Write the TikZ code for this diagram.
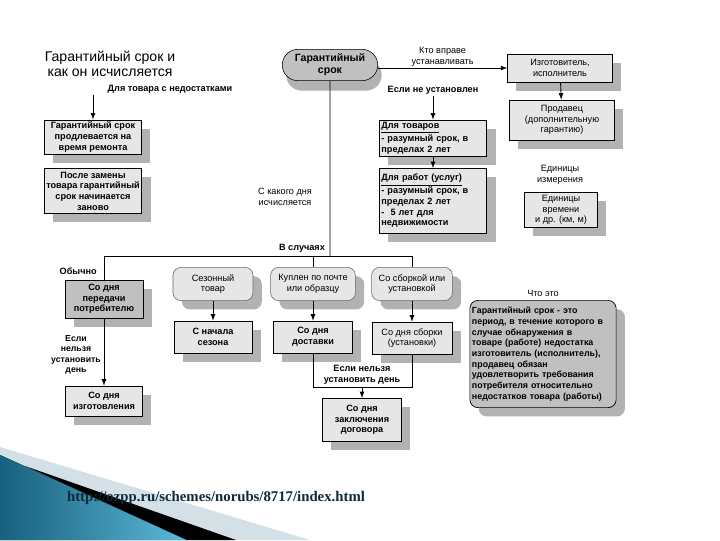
\documentclass[tikz,border=0pt]{standalone}
\usepackage{fontspec}
\setmainfont{Liberation Sans}
\newfontfamily\urlfont{Liberation Serif}
\usepackage{tikz}
\usetikzlibrary{shapes.misc}
\usetikzlibrary{shadows}
\usetikzlibrary{positioning}
\usetikzlibrary{arrows}
\definecolor{boxfill}{HTML}{E6E6E6}
\definecolor{darkfill}{HTML}{C0C0C0}
\definecolor{shadowfill}{HTML}{B2B2B2}
\definecolor{seablue}{HTML}{17607E}
\definecolor{skyblue}{HTML}{5BB9D7}
\definecolor{mistblue}{HTML}{D3E1E7}
\definecolor{urlink}{HTML}{0F283A}
\newcommand{\schemefont}{\fontsize{6.5}{7.6}\selectfont}
\tikzset{
shade_box/.style={drop shadow={shadow xshift=0.22cm, shadow yshift=-0.22cm, fill=shadowfill, opacity=1}},
box_item/.style={rectangle, draw, line width=0.5pt, fill=boxfill, align=center, font=\schemefont\bfseries, inner sep=1.5pt, shade_box},
plain_item/.style={box_item, font=\schemefont},
dark_item/.style={box_item, fill=darkfill},
list_item/.style={box_item, align=left, text width=2.58cm},
case_item/.style={rectangle, rounded corners=2mm, draw=black!60, fill=boxfill, align=center, font=\schemefont, inner sep=1.5pt, minimum height=0.83cm, shade_box},
oval_item/.style={rounded rectangle, draw, fill=darkfill, align=center, font=\fontsize{7.5}{8.5}\selectfont\bfseries, minimum width=2.62cm, minimum height=0.75cm, drop shadow={shadow xshift=0.1cm, shadow yshift=-0.25cm, fill=shadowfill, opacity=1}},
note/.style={align=center, font=\schemefont, inner sep=1pt},
bold_note/.style={note, font=\schemefont\bfseries},
line/.style={line width=0.6pt},
>=latex
}

\begin{document}
\begin{tikzpicture}[x=0.025cm, y=-0.025cm]
    \useasboundingbox (0,0) rectangle (720,540);
    \fill[white] (0,0) rectangle (720,540);

    % slide decoration
    \fill[mistblue] (0,447) -- (310,540) -- (0,540) -- cycle;
    \fill[left color=seablue, right color=skyblue] (0,455) -- (187,540) -- (0,540) -- cycle;
    \fill[black] (25,466) -- (236,540) -- (187,540) -- cycle;
    \node[font=\urlfont\fontsize{10.5}{12}\selectfont\bfseries, text=urlink] (src) at (216,498) {http://ozpp.ru/schemes/norubs/8717/index.html};

    \node[align=center, font=\fontsize{10}{10.6}\selectfont] (title) at (110,64) {Гарантийный срок и\\как он исчисляется};

    % top part
    \node[oval_item] (srok) at (330,65) {Гарантийный\\срок};
    \node[plain_item, minimum width=2.62cm, minimum height=0.7cm] (izg) at (560,68) {Изготовитель,\\исполнитель};
    \draw[line, ->] (srok.east |- izg) -- (izg) node[midway, above, note] {Кто вправе\\устанавливать};
    \node[plain_item, minimum width=2.62cm, minimum height=1cm] (prod) at (562,120) {Продавец\\(дополнительную\\гарантию)};
    \draw[line, ->] (izg) -- (prod);
    \node[note] (units) at (560,175) {Единицы\\измерения};
    \node[plain_item, minimum width=1.83cm, minimum height=0.88cm] (units_box) at (561,210) {Единицы\\времени\\и др. (км, м)};

    \node[bold_note] (defect) at (170,89) {Для товара с недостатками};
    \node[box_item, minimum width=2.43cm, minimum height=0.83cm] (repair) at (93,137) {Гарантийный срок\\продлевается на\\время ремонта};
    \node[box_item, minimum width=2.43cm, minimum height=1.13cm] (swap) at (93,191) {После замены\\товара гарантийный\\срок начинается\\заново};
    \draw[line, ->] (defect.south -| repair.north) -- (repair);

    \node[bold_note] (not_set) at (433,90) {Если не установлен};
    \node[list_item, minimum height=0.85cm] (goods) at (433,138) {\underline{Для товаров}\\- разумный срок, в\\пределах 2 лет};
    \node[list_item, minimum height=1.63cm] (works) at (433,201) {\underline{Для работ (услуг)}\\- разумный срок, в\\пределах 2 лет\\- \ 5 лет для\\недвижимости};
    \draw[line, ->] (not_set) -- (goods);
    \draw[line, ->] (goods) -- (works);

    % from which day
    \node[note] (which_day) at (285,197) {С какого дня\\исчисляется};
    \node[bold_note] (cases) at (302,248) {В случаях};
    \coordinate (bus_l) at (104,256);
    \coordinate (bus_m) at (330,256);
    \coordinate (bus_k) at (313,256);
    \coordinate (bus_r) at (412,256);
    \draw[line] (bus_l) -- (bus_r);
    \draw[line] (srok) -- (bus_m);

    \node[bold_note, anchor=south west] (usual) at (58,276) {Обычно};
    \node[dark_item, minimum width=1.95cm, minimum height=0.95cm] (handover) at (104,299) {Со дня\\передачи\\потребителю};
    \draw[line] (bus_l) -- (handover);

    \node[case_item, minimum width=2cm] (season) at (213,284) {Сезонный\\товар};
    \node[case_item, minimum width=2.12cm] (mail) at (313,284) {Куплен по почте\\или образцу};
    \node[case_item, minimum width=2.02cm] (mount) at (412,284) {Со сборкой или\\установкой};
    \draw[line] (bus_k) -- (mail);
    \draw[line] (bus_r) -- (mount);

    \node[box_item, minimum width=1.95cm, minimum height=0.8cm] (season_start) at (213,337) {С начала\\сезона};
    \node[box_item, minimum width=1.98cm, minimum height=0.8cm] (delivery) at (313,337) {Со дня\\доставки};
    \node[plain_item, minimum width=2cm, minimum height=0.8cm] (mount_day) at (412,338) {Со дня сборки\\(установки)};
    \draw[line, ->] (season) -- (season_start);
    \draw[line, ->] (mail) -- (delivery);
    \draw[line, ->] (mount) -- (mount_day);

    \node[bold_note, font=\fontsize{6.2}{7.4}\selectfont\bfseries] (no_day_l) at (76,355) {Если\\нельзя\\установить\\день};
    \node[box_item, minimum width=1.93cm, minimum height=0.75cm] (made) at (104,401) {Со дня\\изготовления};
    \draw[line, ->] (handover) -- (made);

    \coordinate (br_m) at (362,387);
    \draw[line] (delivery.south) |- (br_m) -| (mount_day.south);
    \node[bold_note, above=1pt of br_m] (no_day_m) {Если нельзя\\установить день};
    \node[box_item, minimum width=1.98cm, minimum height=1.08cm] (contract) at (362,420) {Со дня\\заключения\\договора};
    \draw[line, ->] (br_m) -- (contract);

    % what it is
    \node[note] (what) at (543,293) {Что это};
    \node[box_item, rounded corners=2mm, fill=darkfill, align=left, text width=3.55cm, minimum height=2.68cm, font=\fontsize{6.3}{7.6}\selectfont\bfseries] (meaning) at (543,354) {Гарантийный срок - это\\период, в течение которого в\\случае обнаружения в\\товаре (работе) недостатка\\изготовитель (исполнитель),\\продавец обязан\\удовлетворить требования\\потребителя относительно\\недостатков товара (работы)};
\end{tikzpicture}
\end{document}
